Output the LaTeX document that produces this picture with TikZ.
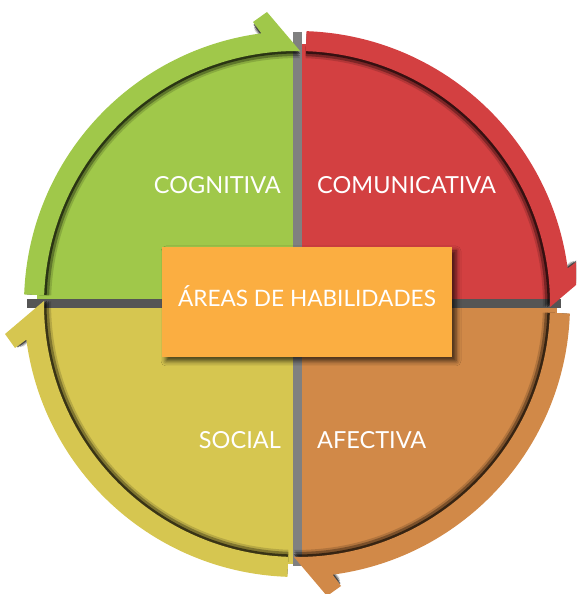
\documentclass[tikz,border=0pt]{standalone}
\usepackage{fontspec}
\setmainfont{Lato}
\usetikzlibrary{shadows.blur}

\definecolor{cogcol}{RGB}{160,200,74}
\definecolor{comcol}{RGB}{211,64,65}
\definecolor{afecol}{RGB}{209,137,72}
\definecolor{soccol}{RGB}{214,198,80}
\definecolor{boxcol}{RGB}{251,174,65}
\definecolor{vdivcol}{RGB}{128,128,128}
\definecolor{hdivcol}{RGB}{85,85,85}

% one quarter of the ring, ending in a barb at the top
\newcommand\ringpath{(178:273) arc[start angle=178,end angle=97.5,radius=273]
  -- (-44,282) -- (-30,292) -- (89.3:253)
  arc[start angle=89.3,end angle=178,radius=253] -- cycle}

\begin{document}
\begin{tikzpicture}[x=1pt,y=1pt,
  lbl/.style={text=white,font=\fontsize{23.5}{28}\selectfont,inner sep=0pt},
  divider/.style={line width=9pt},
  areabox/.style={fill=boxcol,minimum width=290pt,minimum height=110pt,
                  blur shadow={shadow xshift=4pt,shadow yshift=-4pt,
                  shadow blur radius=5pt,shadow opacity=70}},
]
  \useasboundingbox (0,0) rectangle (576,594);
  \clip (0,0) rectangle (576,594);

  \begin{scope}[shift={(297,290)}]
    % quadrants
    \fill[comcol] (0,0) -- (0:260) arc[start angle=0,end angle=90,radius=260] -- cycle;
    \fill[cogcol] (0,0) -- (90:260) arc[start angle=90,end angle=180,radius=260] -- cycle;
    \fill[soccol] (0,0) -- (180:260) arc[start angle=180,end angle=270,radius=260] -- cycle;
    \fill[afecol] (0,0) -- (270:260) arc[start angle=270,end angle=360,radius=260] -- cycle;
    % dividers
    \draw[divider,vdivcol] (0,272) -- (0,-262);
    \draw[divider,hdivcol] (-270,0) -- (264,0);
    % ring arrows
    \foreach \rot/\col in {0/cogcol,-90/comcol,-180/afecol,-270/soccol}{
      \begin{scope}[rotate=\rot]
        \fill[black,opacity=.15,scale=.972] \ringpath;
        \fill[black,opacity=.3,scale=.98] \ringpath;
        \fill[black,opacity=.55,scale=.99] \ringpath;
        \fill[\col] \ringpath;
      \end{scope}
    }
  \end{scope}

  \node[lbl,anchor=base east] (cog) at (281,400.7) {COGNITIVA};
  \node[lbl,anchor=base west] (com) at (317,400.7) {COMUNICATIVA};
  \node[lbl,anchor=base east] (soc) at (281,145.7) {SOCIAL};
  \node[lbl,anchor=base west] (afe) at (317,145.7) {AFECTIVA};

  \node[areabox] (areas) at (307,292) {};
  \node[lbl,anchor=base,font=\fontsize{22.6}{27}\selectfont] (areastxt)
    at (307,287.3) {ÁREAS DE HABILIDADES};
\end{tikzpicture}
\end{document}
